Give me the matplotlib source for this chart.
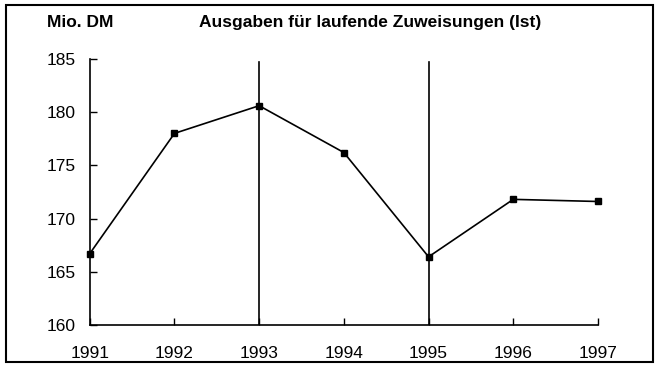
import matplotlib.pyplot as plt
from matplotlib.patches import Rectangle

plt.rcParams['font.family'] = ['Liberation Sans', 'DejaVu Sans']

years = [1991, 1992, 1993, 1994, 1995, 1996, 1997]
ausgaben = [166.7, 178.0, 180.6, 176.2, 166.4, 171.8, 171.6]
marked_years = [1993, 1995]
y_ticks = [160, 165, 170, 175, 180, 185]

fig = plt.figure(figsize=(6.6, 3.68), dpi=100)
ax = fig.add_axes([0.136, 0.117, 0.770, 0.723])

ax.plot(years, ausgaben, color='black', lw=1.2, marker='s', ms=4.5,
        mec='black', mfc='black', zorder=3, clip_on=False)
for yr in marked_years:
    ax.axvline(yr, ymin=0, ymax=0.99, color='black', lw=1.2, zorder=2)

ax.set_xlim(1991, 1997)
ax.set_ylim(160, 185)
ax.set_xticks(years)
ax.set_yticks(y_ticks)
ax.tick_params(direction='in', length=5, width=1, labelsize=12.5, colors='black')
ax.tick_params(axis='x', pad=15)
ax.tick_params(axis='y', pad=10)
for side in ['top', 'right']:
    ax.spines[side].set_visible(False)
for side in ['left', 'bottom']:
    ax.spines[side].set_linewidth(1.2)

fig.text(0.071, 0.94, 'Mio. DM', fontsize=12.5, fontweight='bold', va='center')
fig.text(0.561, 0.94, 'Ausgaben für laufende Zuweisungen (Ist)', fontsize=12.5,
         fontweight='bold', va='center', ha='center')

# frame around the whole chart
fig.patches.append(Rectangle((0.009, 0.016), 0.981, 0.970, transform=fig.transFigure,
                             fill=False, edgecolor='black', lw=1.5))

fig.savefig('out.png', dpi=100)
